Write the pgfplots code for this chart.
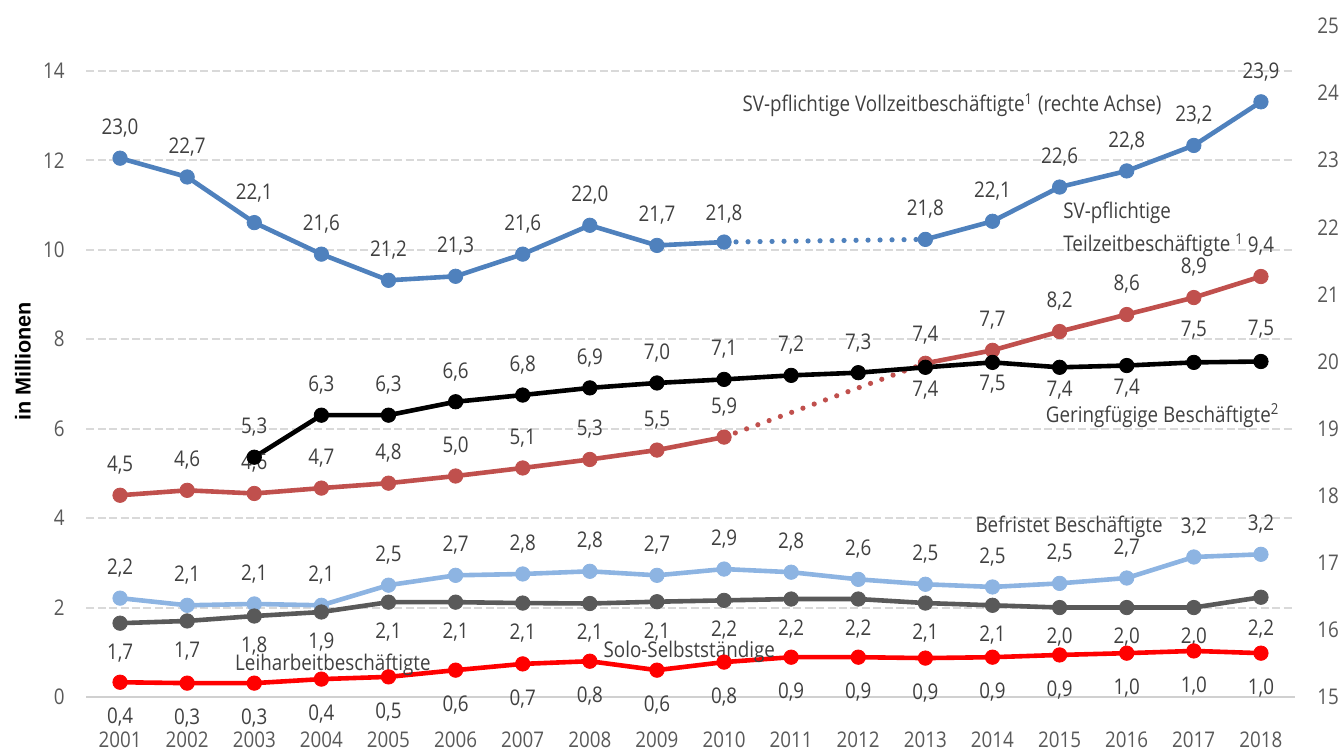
\documentclass[border=0pt]{standalone}
\usepackage{fontspec}
\setmainfont{Open Sans}[FakeStretch=0.87]
\newfontfamily\arialfont{Liberation Sans}
\usepackage{pgfplots}
\usepackage{pgfplotstable}
\pgfplotsset{compat=1.18}

\definecolor{cBlue}{HTML}{4F81BD}
\definecolor{cRed}{HTML}{C0504D}
\definecolor{cLight}{HTML}{8DB4E2}
\definecolor{cGrey}{HTML}{595959}
\definecolor{cBright}{HTML}{FF0000}
\definecolor{cText}{HTML}{404040}
\definecolor{cTick}{HTML}{595959}
\definecolor{cGrid}{HTML}{D9D9D9}
\definecolor{cAxis}{HTML}{D0D0D0}

\newcommand{\fs}{\fontsize{10.8pt}{12pt}\selectfont}

\pgfplotstableread{
x y lab dy
2001 23.03 23,0 15
2002 22.75 22,7 15
2003 22.07 22,1 15
2004 21.60 21,6 15
2005 21.21 21,2 15
2006 21.27 21,3 15
2007 21.60 21,6 15
2008 22.03 22,0 15
2009 21.73 21,7 15
2010 21.78 21,8 14
}\tBlueA
\pgfplotstableread{
x y lab dy
2013 21.82 21,8 15
2014 22.09 22,1 15
2015 22.60 22,6 15
2016 22.84 22,8 15
2017 23.22 23,2 15
2018 23.87 23,9 15
}\tBlueB
\pgfplotstableread{
x y lab dy
2001 4.51 4,5 15
2002 4.62 4,6 15
2003 4.55 4,6 15
2004 4.67 4,7 15
2005 4.78 4,8 15
2006 4.94 5,0 15
2007 5.12 5,1 15
2008 5.31 5,3 15
2009 5.52 5,5 15
2010 5.81 5,9 15
}\tRedA
\pgfplotstableread{
x y lab dy
2013 7.46 7,4 14
2014 7.75 7,7 15
2015 8.17 8,2 15
2016 8.55 8,6 15
2017 8.93 8,9 15
2018 9.40 9,4 15
}\tRedB
\pgfplotstableread{
x y lab dy
2003 5.36 5,3 15
2004 6.30 6,3 15
2005 6.30 6,3 15
2006 6.60 6,6 15
2007 6.75 6,8 15
2008 6.91 6,9 15
2009 7.02 7,0 15
2010 7.10 7,1 15
2011 7.19 7,2 15
2012 7.25 7,3 15
2013 7.37 7,4 -11.5
2014 7.48 7,5 -11
2015 7.37 7,4 -11.5
2016 7.41 7,4 -11.5
2017 7.48 7,5 16
2018 7.50 7,5 16
}\tBlack
\pgfplotstableread{
x y lab dy
2001 2.21 2,2 15
2002 2.05 2,1 15
2003 2.08 2,1 15
2004 2.05 2,1 15
2005 2.50 2,5 15
2006 2.72 2,7 15
2007 2.75 2,8 15
2008 2.81 2,8 15
2009 2.72 2,7 15
2010 2.86 2,9 15
2011 2.79 2,8 15
2012 2.63 2,6 15
2013 2.52 2,5 15
2014 2.46 2,5 15
2015 2.54 2,5 15
2016 2.66 2,7 15
2017 3.13 3,2 15
2018 3.19 3,2 15
}\tLight
\pgfplotstableread{
x y lab dy
2001 1.65 1,7 -15
2002 1.70 1,7 -15
2003 1.81 1,8 -15
2004 1.90 1,9 -15
2005 2.12 2,1 -15
2006 2.12 2,1 -15
2007 2.10 2,1 -15
2008 2.09 2,1 -15
2009 2.13 2,1 -15
2010 2.16 2,2 -15
2011 2.19 2,2 -15
2012 2.19 2,2 -15
2013 2.10 2,1 -15
2014 2.05 2,1 -15
2015 2.00 2,0 -15
2016 2.00 2,0 -15
2017 2.00 2,0 -15
2018 2.23 2,2 -16
}\tGrey
\pgfplotstableread{
x y lab dy
2001 0.33 0,4 -17.5
2002 0.31 0,3 -17.5
2003 0.31 0,3 -17.5
2004 0.40 0,4 -17.5
2005 0.45 0,5 -17.5
2006 0.60 0,6 -17.5
2007 0.74 0,7 -17.5
2008 0.80 0,8 -17.5
2009 0.60 0,6 -17.5
2010 0.78 0,8 -17.5
2011 0.89 0,9 -17.5
2012 0.89 0,9 -17.5
2013 0.87 0,9 -17.5
2014 0.89 0,9 -17.5
2015 0.94 0,9 -17.5
2016 0.98 1,0 -17.5
2017 1.03 1,0 -17.5
2018 0.98 1,0 -17.5
}\tBright

\pgfplotsset{
  base/.style={
    width=604pt, height=335.5pt, scale only axis,
    at={(0,0)}, anchor=south west,
    xmin=2000.5, xmax=2018.5, clip=false,
    major tick length=0pt,
    tick label style={font=\fs, text=cTick},
    /pgf/number format/assume math mode=true,
    /pgf/number format/1000 sep={},
  },
  lab/.style={
    nodes near coords, point meta=explicit symbolic,
    visualization depends on={\thisrow{dy}\as\labdy},
    every node near coord/.append style={anchor=center, yshift=\labdy pt, inner sep=0pt, font=\fs, text=cText},
  },
  ser/.style={color=#1, line width=2.3pt, mark=*, mark size=3.6pt, mark options={line width=0.4pt}},
  dotl/.style={color=#1, line width=2.6pt, dash pattern=on 0pt off 6pt, line cap=round},
}

\begin{document}
\begin{tikzpicture}
\useasboundingbox (-43.25pt,-27pt) rectangle (626.75pt,348.5pt);
\begin{axis}[base,
  ymin=0, ymax=15,
  xtick={2001,2002,...,2018},
  ytick={0,2,...,14},
  axis x line*=bottom, axis y line*=left,
  y axis line style={draw=none},
  x axis line style={draw=cAxis, line width=1pt},
  ymajorgrids,
  grid style={cGrid, line width=1pt, dash pattern=on 4pt off 1.7pt},
  xticklabel style={anchor=center, inner sep=0pt, yshift=-21.5pt},
  yticklabel style={anchor=east, inner sep=0pt, xshift=-10.75pt},
  every axis y label/.style={at={(rel axis cs:0,0.5)}, xshift=-31.75pt, rotate=90, anchor=center},
  ylabel={\arialfont\bfseries\fontsize{10.8pt}{12pt}\selectfont in Millionen},
]
\addplot[ser=cLight, lab] table[x=x, y=y, meta=lab] {\tLight};
\addplot[ser=cGrey, lab] table[x=x, y=y, meta=lab] {\tGrey};
\addplot[ser=cBright, lab] table[x=x, y=y, meta=lab] {\tBright};
\addplot[dotl=cRed] coordinates {(2010,5.81) (2013,7.46)};
\addplot[ser=cRed, lab] table[x=x, y=y, meta=lab] {\tRedA};
\addplot[ser=cRed, lab] table[x=x, y=y, meta=lab] {\tRedB};
\addplot[ser=black, lab] table[x=x, y=y, meta=lab] {\tBlack};

\node[anchor=west, inner sep=0pt, font=\fs, text=cText] at (axis cs:2010.27,13.23) {SV-pflichtige Vollzeitbeschäftigte\textsuperscript{1} (rechte Achse)};
\node[anchor=west, inner sep=0pt, font=\fs, text=cText] at (axis cs:2015.05,10.82) {SV-pflichtige};
\node[anchor=west, inner sep=0pt, font=\fs, text=cText] at (axis cs:2015.05,10.10) {Teilzeitbeschäftigte \textsuperscript{1}};
\node[anchor=west, inner sep=0pt, font=\fs, text=cText] at (axis cs:2014.79,6.30) {Geringfügige Beschäftigte\textsuperscript{2}};
\node[anchor=east, inner sep=0pt, font=\fs, text=cText] at (axis cs:2016.54,3.80) {Befristet Beschäftigte};
\node[anchor=west, inner sep=0pt, font=\fs, text=cText] at (axis cs:2002.71,0.715) {Leiharbeitbeschäftigte};
\node[anchor=west, inner sep=0pt, font=\fs, text=cText] at (axis cs:2008.2,1.0) {Solo-Selbstständige};
\end{axis}
\begin{axis}[base,
  ymin=15, ymax=25,
  ytick={15,16,...,25},
  axis x line=none, axis y line*=right,
  y axis line style={draw=none},
  yticklabel style={anchor=west, inner sep=0pt, xshift=11.25pt},
]
\addplot[dotl=cBlue] coordinates {(2010,21.78) (2013,21.82)};
\addplot[ser=cBlue, lab] table[x=x, y=y, meta=lab] {\tBlueA};
\addplot[ser=cBlue, lab] table[x=x, y=y, meta=lab] {\tBlueB};
\end{axis}
\end{tikzpicture}
\end{document}
